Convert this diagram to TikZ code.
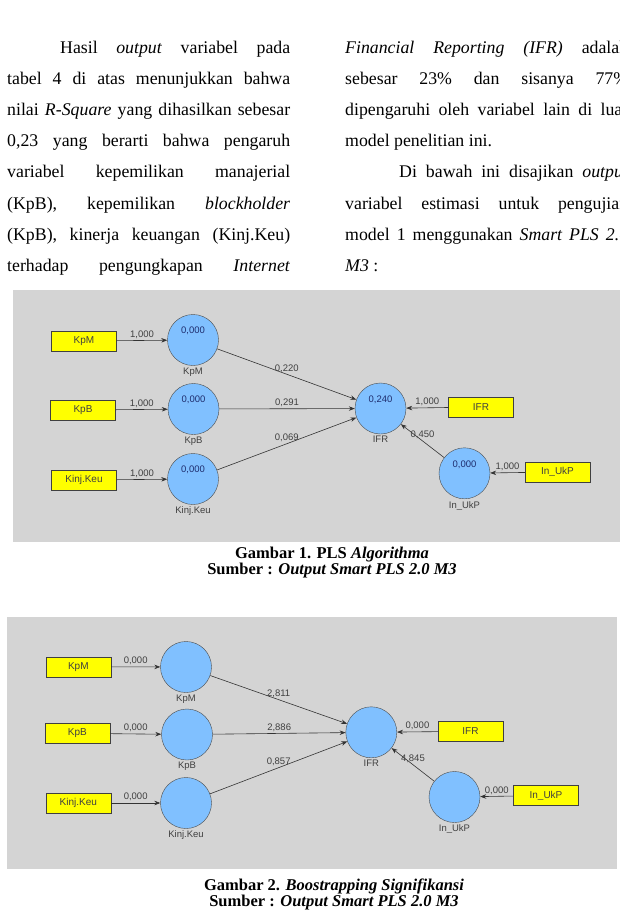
\documentclass[tikz,border=0pt]{standalone}
\usepackage{fontspec}
\setmainfont{Liberation Serif}
\newfontfamily\plsfont{Liberation Sans}
\usetikzlibrary{positioning, arrows.meta}

\definecolor{plsgray}{RGB}{212,212,212}
\definecolor{lvblue}{RGB}{128,192,255}
\definecolor{mvyellow}{RGB}{255,255,0}
\definecolor{valblue}{RGB}{30,45,110}

% one justified line of the text column
\newcommand{\jline}[2]{\makebox[#1][s]{#2}}

\begin{document}
\begin{tikzpicture}[x=1pt, y=-1pt, >={Stealth[length=6pt, width=4.5pt]},
    body/.style={anchor=base west, inner sep=0pt, font=\fontsize{17.8}{20}\selectfont},
    capline/.style={anchor=base, inner sep=0pt, font=\fontsize{16.5}{19}\selectfont\bfseries},
    latent/.style={circle, draw=black!70, fill=lvblue, minimum size=51pt, inner sep=0pt},
    manifest/.style={rectangle, draw=black!75, fill=mvyellow, minimum width=65pt, minimum height=20pt,
      inner sep=0pt, font=\plsfont\fontsize{10}{12}\selectfont, text=black!75},
    val/.style={inner sep=0pt, font=\plsfont\fontsize{9.5}{11}\selectfont, text=valblue},
    coef/.style={above, inner sep=1.5pt, font=\plsfont\fontsize{9.5}{11}\selectfont, text=black!75},
    link/.style={->, draw=black!80, line width=0.6pt},
    every label/.style={font=\plsfont\fontsize{9.5}{11}\selectfont, text=black!75, inner sep=2pt}]
\useasboundingbox (0,0) rectangle (620,912);

% text columns
\node[body] (l1) at (60,54) {\jline{230pt}{Hasil \textit{output} variabel pada}};
\node[body] (l2) at (7,85) {\jline{283pt}{tabel 4 di atas menunjukkan bahwa}};
\node[body] (l3) at (7,116) {\jline{283pt}{nilai \textit{R-Square} yang dihasilkan sebesar}};
\node[body] (l4) at (7,147) {\jline{283pt}{0,23 yang berarti bahwa pengaruh}};
\node[body] (l5) at (7,178) {\jline{283pt}{variabel kepemilikan manajerial}};
\node[body] (l6) at (7,209) {\jline{283pt}{(KpB), kepemilikan \textit{blockholder}}};
\node[body] (l7) at (7,240) {\jline{283pt}{(KpB), kinerja keuangan (Kinj.Keu)}};
\node[body] (l8) at (7,271) {\jline{283pt}{terhadap pengungkapan \textit{Internet}}};

\node[body] (r1) at (345,54) {\jline{283pt}{\textit{Financial Reporting (IFR)} adalah}};
\node[body] (r2) at (345,85) {\jline{283pt}{sebesar 23\% dan sisanya 77\%}};
\node[body] (r3) at (345,116) {\jline{283pt}{dipengaruhi oleh variabel lain di luar}};
\node[body] (r4) at (345,147) {model penelitian ini.};
\node[body] (r5) at (399,178) {\jline{229pt}{Di bawah ini disajikan \textit{output}}};
\node[body] (r6) at (345,209) {\jline{283pt}{variabel estimasi untuk pengujian}};
\node[body] (r7) at (345,240) {\jline{283pt}{model 1 menggunakan \textit{Smart PLS 2.0}}};
\node[body] (r8) at (345,271) {\textit{M3} :};

% PLS algorithm output
\fill[plsgray] (13,290) rectangle (620,541.5);

\node[manifest] (bKpM) at (84,341) {KpM};
\node[manifest] (bKpB) at (83,410) {KpB};
\node[manifest] (bKinj) at (84,480) {Kinj.Keu};
\node[manifest] (bIFR) at (481,407) {IFR};
\node[manifest] (bUkP) at (557.5,472) {In\_UkP};

\node[latent, label=below:KpM] (KpM) at (193,340) {};
\node[latent, label=below:KpB] (KpB) at (193.5,409) {};
\node[latent, label=below:Kinj.Keu] (Kinj) at (193,479) {};
\node[latent, label=below:IFR] (IFR) at (380.5,408.5) {};
\node[latent, label=below:In\_UkP] (UkP) at (464.5,473.3) {};

\node[val] (vKpM) at ([yshift=9pt]KpM) {0,000};
\node[val] (vKpB) at ([yshift=9pt]KpB) {0,000};
\node[val] (vKinj) at ([yshift=9pt]Kinj) {0,000};
\node[val] (vIFR) at ([yshift=9pt]IFR) {0,240};
\node[val] (vUkP) at ([yshift=9pt]UkP) {0,000};

\draw[link] (bKpM) -- node[coef] {1,000} (KpM);
\draw[link] (bKpB) -- node[coef] {1,000} (KpB);
\draw[link] (bKinj) -- node[coef] {1,000} (Kinj);
\draw[link] (bIFR) -- node[coef] {1,000} (IFR);
\draw[link] (bUkP) -- node[coef] {1,000} (UkP);
\draw[link] (KpM) -- node[coef] {0,220} (IFR);
\draw[link] (KpB) -- node[coef] {0,291} (IFR);
\draw[link] (Kinj) -- node[coef] {0,069} (IFR);
\draw[link] (UkP) -- node[coef] {0,450} (IFR);

\node[capline] (cap1) at (332,558) {Gambar 1. PLS \textit{Algorithma}};
\node[capline] (src1) at (332,574) {Sumber : \textit{Output Smart PLS 2.0 M3}};

% bootstrapping output
\fill[plsgray] (7,616.5) rectangle (617,869);

\node[manifest] (tKpM) at (78.3,666.7) {KpM};
\node[manifest] (tKpB) at (77.3,733.3) {KpB};
\node[manifest] (tKinj) at (78.3,803) {Kinj.Keu};
\node[manifest] (tIFR) at (470.5,731.3) {IFR};
\node[manifest] (tUkP) at (546,795.5) {In\_UkP};

\node[latent, label=below:KpM] (sKpM) at (186,667) {};
\node[latent, label=below:KpB] (sKpB) at (187,734.5) {};
\node[latent, label=below:Kinj.Keu] (sKinj) at (186,803) {};
\node[latent, label=below:IFR] (sIFR) at (371.3,732.3) {};
\node[latent, label=below:In\_UkP] (sUkP) at (454.5,797) {};

\draw[link] (tKpM) -- node[coef] {0,000} (sKpM);
\draw[link] (tKpB) -- node[coef] {0,000} (sKpB);
\draw[link] (tKinj) -- node[coef] {0,000} (sKinj);
\draw[link] (tIFR) -- node[coef] {0,000} (sIFR);
\draw[link] (tUkP) -- node[coef] {0,000} (sUkP);
\draw[link] (sKpM) -- node[coef] {2,811} (sIFR);
\draw[link] (sKpB) -- node[coef] {2,886} (sIFR);
\draw[link] (sKinj) -- node[coef] {0,857} (sIFR);
\draw[link] (sUkP) -- node[coef] {4,845} (sIFR);

\node[capline] (cap2) at (334,890) {Gambar 2. \textit{Boostrapping Signifikansi}};
\node[capline] (src2) at (334,906) {Sumber : \textit{Output Smart PLS 2.0 M3}};
\end{tikzpicture}
\end{document}
